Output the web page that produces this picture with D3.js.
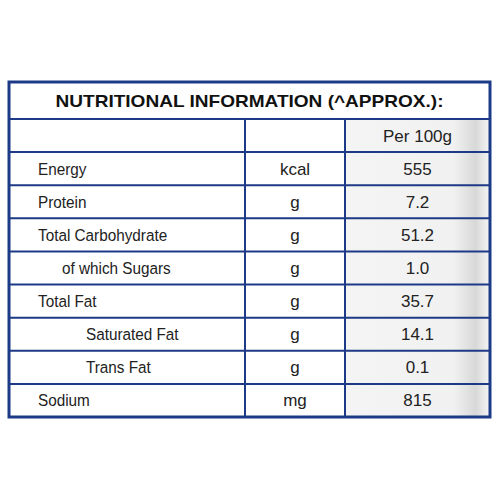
<!DOCTYPE html>
<html><head><meta charset="utf-8">
<script src="https://cdn.jsdelivr.net/npm/d3@7"></script>
<style>body{margin:0;background:#fff}</style>
</head><body><div id="chart"></div>
<script>
// table content
const title = "NUTRITIONAL INFORMATION (^APPROX.):";
const nutrients = ["Energy", "Protein", "Total Carbohydrate", "of which Sugars", "Total Fat", "Saturated Fat", "Trans Fat", "Sodium"];
const indents = [0, 0, 0, 1, 0, 2, 2, 0];
const units = ["kcal", "g", "g", "g", "g", "g", "g", "mg"];
const values = ["555", "7.2", "51.2", "1.0", "35.7", "14.1", "0.1", "815"];
const header = ["", "", "Per 100g"];

const tLeft = 9, tRight = 490, tTop = 82, titleH = 37, tBottom = 417;
const navy = "#1d3a86";

const svg = d3.select("#chart").append("svg").attr("width", 500).attr("height", 500);

const defs = svg.append("defs");
const g = defs.append("linearGradient").attr("id", "shade");
g.append("stop").attr("offset", "0%").attr("stop-color", "#f4f4f4");
g.append("stop").attr("offset", "75%").attr("stop-color", "#f1f1f1");
g.append("stop").attr("offset", "90%").attr("stop-color", "#d8d8d8");
g.append("stop").attr("offset", "100%").attr("stop-color", "#f5f5f5");

const rows = ["header", ...nutrients];
const y = d3.scaleBand().domain(d3.range(rows.length)).range([tTop + titleH, tBottom]);
const x = d3.scaleOrdinal().domain([0, 1, 2, 3]).range([tLeft, 245, 345, tRight]);

// shaded value column
svg.append("rect").attr("x", x(2)).attr("y", y(0)).attr("width", x(3) - x(2))
  .attr("height", tBottom - y(0)).attr("fill", "url(#shade)");

// grid lines
svg.selectAll("line.row").data(d3.range(rows.length)).join("line")
  .attr("x1", tLeft).attr("x2", tRight)
  .attr("y1", d => y(d)).attr("y2", d => y(d))
  .attr("stroke", navy).attr("stroke-width", 2);
svg.selectAll("line.col").data([1, 2]).join("line")
  .attr("x1", d => x(d)).attr("x2", d => x(d))
  .attr("y1", y(0)).attr("y2", tBottom)
  .attr("stroke", navy).attr("stroke-width", 2);

// outer frame
svg.append("rect").attr("x", tLeft).attr("y", tTop).attr("width", tRight - tLeft).attr("height", tBottom - tTop)
  .attr("fill", "none").attr("stroke", navy).attr("stroke-width", 3);

const font = "'Liberation Sans', Arial, sans-serif";
const mid = i => y(i) + y.bandwidth() / 2 + 6;

svg.append("text").attr("x", (tLeft + tRight) / 2).attr("y", tTop + titleH / 2 + 6)
  .attr("text-anchor", "middle").attr("font-family", font).attr("font-weight", "bold")
  .attr("font-size", 17).attr("textLength", 388).attr("lengthAdjust", "spacingAndGlyphs")
  .attr("fill", "#111").text(title);

svg.append("text").attr("x", (x(2) + x(3)) / 2).attr("y", mid(0)).attr("text-anchor", "middle")
  .attr("font-family", font).attr("font-size", 17).attr("fill", "#222").text(header[2]);

const body = svg.append("g").attr("font-family", font).attr("font-size", 17).attr("fill", "#222");
nutrients.forEach((n, k) => {
  const i = k + 1;
  const lx = 38 + indents[k] * 24;
  body.append("text").attr("x", 0).attr("y", mid(i))
    .attr("transform", `translate(${lx},0) scale(0.9,1)`)
    .text(n);
  body.append("text").attr("x", (x(1) + x(2)) / 2).attr("y", mid(i)).attr("text-anchor", "middle").text(units[k]);
  body.append("text").attr("x", (x(2) + x(3)) / 2).attr("y", mid(i)).attr("text-anchor", "middle").text(values[k]);
});
</script></body></html>
